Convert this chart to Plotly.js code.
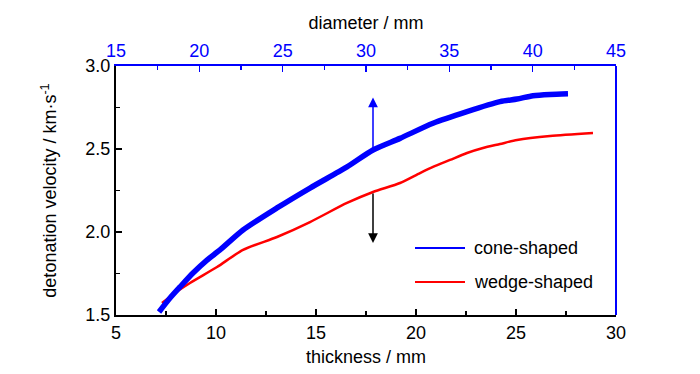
<!DOCTYPE html>
<html><head><meta charset="utf-8">
<script src="https://cdn.plot.ly/plotly-3.0.1.min.js"></script>
</head>
<body style="margin:0;background:#fff">
<div id="chart" style="width:700px;height:374px"></div>
<script>
// cone-shaped: velocity vs diameter (top axis)
const coneDiameter = [17.58, 18.24, 18.84, 19.62, 20.46, 21.24, 22.62, 24.66, 26.64, 28.86, 30.42, 32.04, 34.02, 36.06, 38.04, 39.06, 40.02, 41.04, 42.12];
const coneVelocity = [1.518, 1.602, 1.669, 1.753, 1.831, 1.892, 2.012, 2.145, 2.265, 2.392, 2.494, 2.564, 2.655, 2.725, 2.785, 2.801, 2.821, 2.829, 2.833];
// wedge-shaped: velocity vs thickness (bottom axis)
const wedgeThickness = [7.3, 7.95, 8.7, 10.05, 11.35, 13.05, 14.7, 16.55, 17.85, 19.2, 20.2, 20.85, 21.7, 22.55, 23.35, 24.2, 25.05, 26.7, 28.85];
const wedgeVelocity = [1.572, 1.633, 1.693, 1.789, 1.892, 1.970, 2.060, 2.175, 2.241, 2.295, 2.355, 2.392, 2.434, 2.476, 2.506, 2.530, 2.554, 2.578, 2.596];
const seriesNames = ['cone-shaped', 'wedge-shaped'];
const seriesColors = ['#0000ff', '#ff0000'];
// arrow annotations (thickness, velocity): [x, tail y, tip y]
const upArrow = [17.85, 2.494, 2.81];
const downArrow = [17.85, 2.241, 1.934];

const FONT = 'Liberation Sans, Arial, sans-serif';

const traces = [
  {x: coneDiameter, y: coneVelocity, xaxis: 'x2', yaxis: 'y', mode: 'lines', name: seriesNames[0],
   line: {color: seriesColors[0], width: 5.5, shape: 'spline', smoothing: 0.7}, showlegend: false},
  {x: wedgeThickness, y: wedgeVelocity, xaxis: 'x', yaxis: 'y', mode: 'lines', name: seriesNames[1],
   line: {color: seriesColors[1], width: 2.5, shape: 'spline', smoothing: 0.7}, showlegend: false}
];

const legY = [0.269, 0.1325];
const shapes = [
  {type: 'line', xref: 'paper', yref: 'paper', x0: 1, x1: 1, y0: 0, y1: 1, line: {color: '#0000ff', width: 2}}
];
const annotations = [
  {x: upArrow[0], y: upArrow[2], ax: upArrow[0], ay: upArrow[1], xref: 'x', yref: 'y', axref: 'x', ayref: 'y',
   text: '', showarrow: true, arrowhead: 2, arrowsize: 1.3, arrowwidth: 1.5, arrowcolor: '#0000ff'},
  {x: downArrow[0], y: downArrow[2], ax: downArrow[0], ay: downArrow[1], xref: 'x', yref: 'y', axref: 'x', ayref: 'y',
   text: '', showarrow: true, arrowhead: 2, arrowsize: 1.3, arrowwidth: 1.5, arrowcolor: '#000000'}
];
seriesNames.forEach((n, i) => {
  shapes.push({type: 'line', xref: 'paper', yref: 'paper', x0: 0.598, x1: 0.698, y0: legY[i], y1: legY[i],
    line: {color: seriesColors[i], width: 2}});
  annotations.push({xref: 'paper', yref: 'paper', x: 0.712, y: legY[i], xanchor: 'left', yanchor: 'middle',
    text: n, showarrow: false, font: {family: FONT, size: 18, color: '#000'}});
});

const layout = {
  width: 700, height: 374,
  margin: {l: 116, r: 84, t: 66, b: 59},
  paper_bgcolor: '#fff', plot_bgcolor: '#fff',
  font: {family: FONT, size: 17, color: '#000'},
  xaxis: {range: [5, 30], dtick: 5, tick0: 5, showgrid: false, zeroline: false,
    showline: true, linecolor: '#000', linewidth: 2, ticks: 'inside', ticklen: 6, tickwidth: 1.5, tickcolor: '#000',
    minor: {dtick: 2.5, ticks: 'inside', ticklen: 4, tickwidth: 1.5, tickcolor: '#000'},
    tickfont: {size: 18}, title: {text: 'thickness / mm', font: {size: 18}, standoff: 9}},
  xaxis2: {range: [15, 45], dtick: 5, tick0: 15, overlaying: 'x', side: 'top', showgrid: false, zeroline: false,
    showline: true, linecolor: '#0000ff', linewidth: 2, ticks: 'inside', ticklen: 6, tickwidth: 1.5, tickcolor: '#0000ff',
    minor: {dtick: 2.5, ticks: 'inside', ticklen: 4, tickwidth: 1.5, tickcolor: '#0000ff'},
    tickfont: {size: 18, color: '#0000ff'}, title: {text: 'diameter / mm', font: {size: 18, color: '#000'}, standoff: 6}},
  yaxis: {range: [1.5, 3.0], dtick: 0.5, tick0: 1.5, tickformat: '.1f', showgrid: false, zeroline: false,
    showline: true, linecolor: '#000', linewidth: 2, ticks: 'inside', ticklen: 6, tickwidth: 1.5, tickcolor: '#000',
    minor: {dtick: 0.25, ticks: 'inside', ticklen: 4, tickwidth: 1.5, tickcolor: '#000'},
    tickfont: {size: 18}, title: {text: 'detonation velocity / km·s<sup>-1</sup>', font: {size: 18}, standoff: 24}},
  shapes: shapes,
  annotations: annotations,
  showlegend: false
};

Plotly.newPlot('chart', traces, layout, {staticPlot: true, displayModeBar: false});
</script>
</body></html>
